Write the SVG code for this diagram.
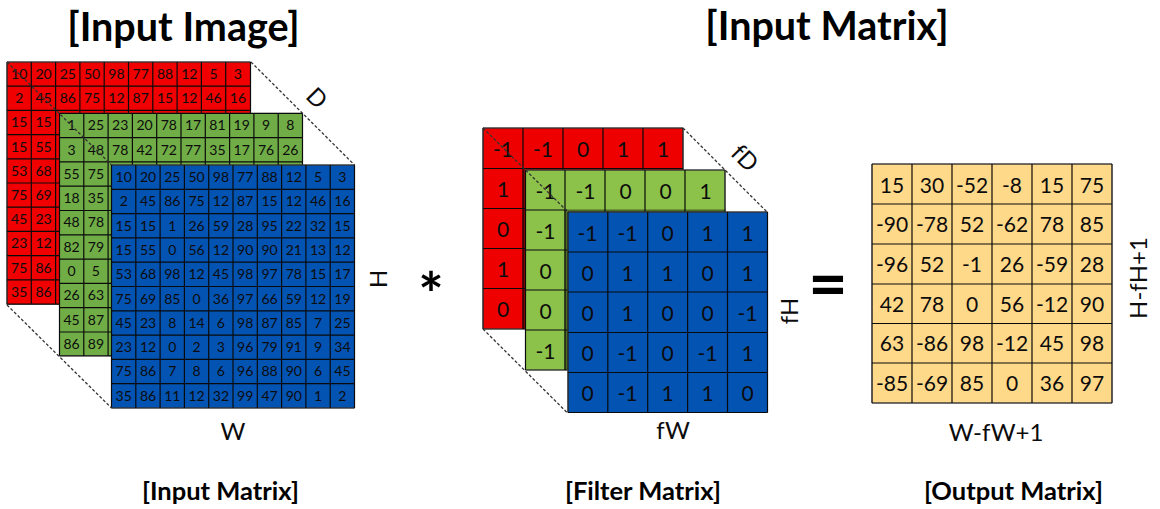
<svg xmlns="http://www.w3.org/2000/svg" width="1160" height="509" viewBox="0 0 1160 509">
<style>
text{font-family:Lato,"Open Sans","Liberation Sans",sans-serif;fill:#0c0c0c;text-anchor:middle}
.s{font-size:14px}.m{font-size:21px}.l{font-size:24px}
.b{font-weight:700;fill:#000}.t{font-size:39.5px}.c{font-size:25.5px}
.grid{fill:none;stroke:#0a0a0a;stroke-width:1.2}
.dash{fill:none;stroke:#333;stroke-width:1.3;stroke-dasharray:3 2}
.edge{stroke:#999;stroke-width:.8}
</style>
<g id="title-image"><text class="b t" x="183.5" y="41">[Input Image]</text></g>
<g id="title-matrix"><text class="b t" x="827" y="40">[Input Matrix]</text></g>

<g id="input-red">
<rect class="edge" x="7" y="62" width="243.5" height="242.5" fill="#f00000"/>
<path class="grid" d="M7 62V304.5M31.3 62V304.5M55.6 62V304.5M79.9 62V113M104.2 62V113M128.5 62V113M152.8 62V113M177.1 62V113M201.4 62V113M225.7 62V113M250.5 62V113M7 62H250.5M7 86.2H250.5M7 110.4H250.5M7 134.6H60M7 158.8H60M7 183H60M7 207.2H60M7 231.4H60M7 255.6H60M7 279.8H60M7 304.2H60"/>
<g class="s">
<g transform="translate(0,79)"><text x="19.2">10</text><text x="43.5">20</text><text x="67.8">25</text><text x="92.1">50</text><text x="116.4">98</text><text x="140.7">77</text><text x="165">88</text><text x="189.3">12</text><text x="213.6">5</text><text x="237.9">3</text></g>
<g transform="translate(0,103.2)"><text x="19.2">2</text><text x="43.5">45</text><text x="67.8">86</text><text x="92.1">75</text><text x="116.4">12</text><text x="140.7">87</text><text x="165">15</text><text x="189.3">12</text><text x="213.6">46</text><text x="237.9">16</text></g>
<g transform="translate(0,127.4)"><text x="19.2">15</text><text x="43.5">15</text></g>
<g transform="translate(0,151.6)"><text x="19.2">15</text><text x="43.5">55</text></g>
<g transform="translate(0,175.8)"><text x="19.2">53</text><text x="43.5">68</text></g>
<g transform="translate(0,200)"><text x="19.2">75</text><text x="43.5">69</text></g>
<g transform="translate(0,224.2)"><text x="19.2">45</text><text x="43.5">23</text></g>
<g transform="translate(0,248.4)"><text x="19.2">23</text><text x="43.5">12</text></g>
<g transform="translate(0,272.6)"><text x="19.2">75</text><text x="43.5">86</text></g>
<g transform="translate(0,296.8)"><text x="19.2">35</text><text x="43.5">86</text></g>
</g>
</g>

<g id="input-green">
<rect class="edge" x="59.5" y="113.3" width="243" height="242.5" fill="#70ad47"/>
<path class="grid" d="M59.5 113.3V355.8M83.8 113.3V355.8M108.1 113.3V355.8M132.4 113.3V165M156.7 113.3V165M181 113.3V165M205.3 113.3V165M229.6 113.3V165M253.9 113.3V165M278.2 113.3V165M302.5 113.3V165M59.5 113.3H302.5M59.5 137.6H302.5M59.5 161.9H302.5M59.5 186.2H112M59.5 210.5H112M59.5 234.8H112M59.5 259.1H112M59.5 283.4H112M59.5 307.7H112M59.5 332H112M59.5 355.8H112"/>
<g class="s">
<g transform="translate(0,130.2)"><text x="71.6">1</text><text x="95.9">25</text><text x="120.2">23</text><text x="144.5">20</text><text x="168.8">78</text><text x="193.1">17</text><text x="217.4">81</text><text x="241.7">19</text><text x="266">9</text><text x="290.3">8</text></g>
<g transform="translate(0,154.5)"><text x="71.6">3</text><text x="95.9">48</text><text x="120.2">78</text><text x="144.5">42</text><text x="168.8">72</text><text x="193.1">77</text><text x="217.4">35</text><text x="241.7">17</text><text x="266">76</text><text x="290.3">26</text></g>
<g transform="translate(0,178.8)"><text x="71.6">55</text><text x="95.9">75</text></g>
<g transform="translate(0,203.1)"><text x="71.6">18</text><text x="95.9">35</text></g>
<g transform="translate(0,227.4)"><text x="71.6">48</text><text x="95.9">78</text></g>
<g transform="translate(0,251.7)"><text x="71.6">82</text><text x="95.9">79</text></g>
<g transform="translate(0,276)"><text x="71.6">0</text><text x="95.9">5</text></g>
<g transform="translate(0,300.3)"><text x="71.6">26</text><text x="95.9">63</text></g>
<g transform="translate(0,324.6)"><text x="71.6">45</text><text x="95.9">87</text></g>
<g transform="translate(0,348.9)"><text x="71.6">86</text><text x="95.9">89</text></g>
</g>
</g>

<g id="input-blue">
<rect class="edge" x="111.5" y="165" width="243" height="243" fill="#0353b3"/>
<path class="grid" d="M111.5 165V408M135.8 165V408M160.1 165V408M184.4 165V408M208.7 165V408M233 165V408M257.3 165V408M281.6 165V408M305.9 165V408M330.2 165V408M354.5 165V408M111.5 165H354.5M111.5 189.3H354.5M111.5 213.6H354.5M111.5 237.9H354.5M111.5 262.2H354.5M111.5 286.5H354.5M111.5 310.8H354.5M111.5 335.1H354.5M111.5 359.4H354.5M111.5 383.7H354.5M111.5 408H354.5"/>
<g class="s">
<g transform="translate(0,182)"><text x="123.7">10</text><text x="148">20</text><text x="172.3">25</text><text x="196.6">50</text><text x="220.9">98</text><text x="245.2">77</text><text x="269.5">88</text><text x="293.8">12</text><text x="318.1">5</text><text x="342.4">3</text></g>
<g transform="translate(0,206.3)"><text x="123.7">2</text><text x="148">45</text><text x="172.3">86</text><text x="196.6">75</text><text x="220.9">12</text><text x="245.2">87</text><text x="269.5">15</text><text x="293.8">12</text><text x="318.1">46</text><text x="342.4">16</text></g>
<g transform="translate(0,230.6)"><text x="123.7">15</text><text x="148">15</text><text x="172.3">1</text><text x="196.6">26</text><text x="220.9">59</text><text x="245.2">28</text><text x="269.5">95</text><text x="293.8">22</text><text x="318.1">32</text><text x="342.4">15</text></g>
<g transform="translate(0,254.9)"><text x="123.7">15</text><text x="148">55</text><text x="172.3">0</text><text x="196.6">56</text><text x="220.9">12</text><text x="245.2">90</text><text x="269.5">90</text><text x="293.8">21</text><text x="318.1">13</text><text x="342.4">12</text></g>
<g transform="translate(0,279.2)"><text x="123.7">53</text><text x="148">68</text><text x="172.3">98</text><text x="196.6">12</text><text x="220.9">45</text><text x="245.2">98</text><text x="269.5">97</text><text x="293.8">78</text><text x="318.1">15</text><text x="342.4">17</text></g>
<g transform="translate(0,303.5)"><text x="123.7">75</text><text x="148">69</text><text x="172.3">85</text><text x="196.6">0</text><text x="220.9">36</text><text x="245.2">97</text><text x="269.5">66</text><text x="293.8">59</text><text x="318.1">12</text><text x="342.4">19</text></g>
<g transform="translate(0,327.8)"><text x="123.7">45</text><text x="148">23</text><text x="172.3">8</text><text x="196.6">14</text><text x="220.9">6</text><text x="245.2">98</text><text x="269.5">87</text><text x="293.8">85</text><text x="318.1">7</text><text x="342.4">25</text></g>
<g transform="translate(0,352.1)"><text x="123.7">23</text><text x="148">12</text><text x="172.3">0</text><text x="196.6">2</text><text x="220.9">3</text><text x="245.2">96</text><text x="269.5">79</text><text x="293.8">91</text><text x="318.1">9</text><text x="342.4">34</text></g>
<g transform="translate(0,376.4)"><text x="123.7">75</text><text x="148">86</text><text x="172.3">7</text><text x="196.6">8</text><text x="220.9">6</text><text x="245.2">96</text><text x="269.5">88</text><text x="293.8">90</text><text x="318.1">6</text><text x="342.4">45</text></g>
<g transform="translate(0,400.7)"><text x="123.7">35</text><text x="148">86</text><text x="172.3">11</text><text x="196.6">12</text><text x="220.9">32</text><text x="245.2">99</text><text x="269.5">47</text><text x="293.8">90</text><text x="318.1">1</text><text x="342.4">2</text></g>
</g>
</g>

<g id="filter-red">
<rect class="edge" x="483" y="128" width="200" height="201" fill="#ee0000"/>
<rect x="522.5" y="168" width="3" height="161" fill="#8a0606"/>
<path class="grid" d="M483 128V329M523 128V329M563 128V170M603 128V170M643 128V170M683 128V170M483 128H683M483 168.5H683M483 208.5H525M483 248.5H525M483 288.5H525M483 329H525"/>
<g class="m">
<text x="503" y="157">-1</text><text x="543" y="157">-1</text><text x="583" y="157">0</text><text x="623" y="157">1</text><text x="663" y="157">1</text>
<text x="503" y="197">1</text><text x="503" y="237">0</text><text x="503" y="277">1</text><text x="503" y="317">0</text>
</g>
</g>

<g id="filter-green">
<rect class="edge" x="525.5" y="170" width="199.5" height="200" fill="#8cc24a"/>
<rect x="564.5" y="210" width="3.5" height="160" fill="#4d6b26"/>
<rect x="564.5" y="209.5" width="161" height="2.5" fill="#4d6b26"/>
<path class="grid" d="M525.5 170V370M565 170V370M605 170V212M645 170V212M685 170V212M725 170V212M525.5 170H725M525.5 210H567M525.5 250H567M525.5 290H567M525.5 330H567M525.5 370H567"/>
<g class="m">
<text x="545.5" y="199">-1</text><text x="585.5" y="199">-1</text><text x="625.5" y="199">0</text><text x="665.5" y="199">0</text><text x="705.5" y="199">1</text>
<text x="545.5" y="239">-1</text><text x="545.5" y="279">0</text><text x="545.5" y="319">0</text><text x="545.5" y="359">-1</text>
</g>
</g>

<g id="filter-blue">
<rect class="edge" x="568" y="212" width="199.5" height="200.5" fill="#0353b3"/>
<path class="grid" d="M568 212V412.5M607.8 212V412.5M647.7 212V412.5M687.6 212V412.5M727.5 212V412.5M767.5 212V412.5M568 212H767.5M568 252H767.5M568 292H767.5M568 332.5H767.5M568 372.5H767.5M568 412.5H767.5"/>
<g class="m">
<text x="587.5" y="241">-1</text><text x="627.5" y="241">-1</text><text x="667.5" y="241">0</text><text x="707.5" y="241">1</text><text x="747.5" y="241">1</text>
<text x="587.5" y="281">0</text><text x="627.5" y="281">1</text><text x="667.5" y="281">1</text><text x="707.5" y="281">0</text><text x="747.5" y="281">1</text>
<text x="587.5" y="321">0</text><text x="627.5" y="321">1</text><text x="667.5" y="321">0</text><text x="707.5" y="321">0</text><text x="747.5" y="321">-1</text>
<text x="587.5" y="361">0</text><text x="627.5" y="361">-1</text><text x="667.5" y="361">0</text><text x="707.5" y="361">-1</text><text x="747.5" y="361">1</text>
<text x="587.5" y="401">0</text><text x="627.5" y="401">-1</text><text x="667.5" y="401">1</text><text x="707.5" y="401">1</text><text x="747.5" y="401">0</text>
</g>
</g>

<g id="output">
<rect class="edge" x="872" y="164" width="240" height="239" fill="#ffd98a"/>
<path class="grid" d="M872 164V403M912 164V403M952 164V403M992 164V403M1032 164V403M1072 164V403M1112 164V403M872 164H1112M872 204H1112M872 244H1112M872 284H1112M872 323.5H1112M872 363H1112M872 403H1112"/>
<g class="m">
<text x="892" y="192.5">15</text><text x="932" y="192.5">30</text><text x="972" y="192.5">-52</text><text x="1012" y="192.5">-8</text><text x="1052" y="192.5">15</text><text x="1092" y="192.5">75</text>
<text x="892" y="232">-90</text><text x="932" y="232">-78</text><text x="972" y="232">52</text><text x="1012" y="232">-62</text><text x="1052" y="232">78</text><text x="1092" y="232">85</text>
<text x="892" y="272">-96</text><text x="932" y="272">52</text><text x="972" y="272">-1</text><text x="1012" y="272">26</text><text x="1052" y="272">-59</text><text x="1092" y="272">28</text>
<text x="892" y="312">42</text><text x="932" y="312">78</text><text x="972" y="312">0</text><text x="1012" y="312">56</text><text x="1052" y="312">-12</text><text x="1092" y="312">90</text>
<text x="892" y="351">63</text><text x="932" y="351">-86</text><text x="972" y="351">98</text><text x="1012" y="351">-12</text><text x="1052" y="351">45</text><text x="1092" y="351">98</text>
<text x="892" y="391">-85</text><text x="932" y="391">-69</text><text x="972" y="391">85</text><text x="1012" y="391">0</text><text x="1052" y="391">36</text><text x="1092" y="391">97</text>
</g>
</g>

<g id="connectors">
<path class="dash" d="M7 62L111.5 165M7 305L111.5 408M251 62L354.5 165M483 128L567 211M483 329L567 412.5M683 128L767 212"/>
</g>

<g id="labels">
<text class="l" transform="translate(311,104) rotate(45)">D</text>
<text class="l" transform="translate(370,279) rotate(90)">H</text>
<text class="l" x="233" y="440">W</text>
<text class="l" transform="translate(739,164) rotate(45)">fD</text>
<text class="l" transform="translate(798,311) rotate(-90)">fH</text>
<text class="l" x="673" y="439">fW</text>
<text class="l" transform="translate(1147,278) rotate(-90)">H-fH+1</text>
<text class="l" x="996" y="441">W-fW+1</text>
<text class="b" style="font-size:60px" x="431" y="316">*</text>
<text class="b" style="font-size:68px" x="828" y="307.5">=</text>
<text class="b c" x="220.5" y="500">[Input Matrix]</text>
<text class="b c" x="643" y="500">[Filter Matrix]</text>
<text class="b c" x="1013.5" y="500">[Output Matrix]</text>
</g>
</svg>
